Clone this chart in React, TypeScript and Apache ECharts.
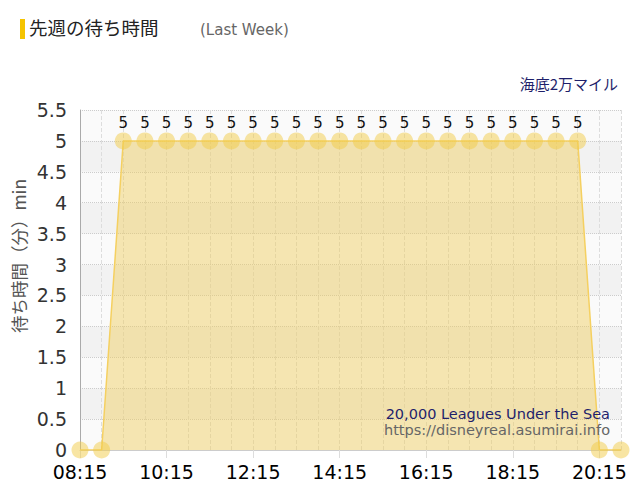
import { useRef, useEffect } from "react";
import * as echarts from "echarts";

// 時刻（30分刻み）
const times = [
  "08:15", "08:45", "09:15", "09:45", "10:15", "10:45", "11:15", "11:45",
  "12:15", "12:45", "13:15", "13:45", "14:15", "14:45", "15:15", "15:45",
  "16:15", "16:45", "17:15", "17:45", "18:15", "18:45", "19:15", "19:45",
  "20:15", "20:45",
];
// 待ち時間（分）
const waits = [
  0, 0, 5, 5, 5, 5, 5, 5, 5, 5, 5, 5, 5, 5, 5, 5, 5, 5, 5, 5, 5, 5, 5, 5, 0, 0,
];

const FONT = "'DejaVu Sans', Verdana, sans-serif";
const JP = "'Noto Sans CJK JP', sans-serif";

const App = () => {
  const chartRef = useRef<HTMLDivElement>(null);

  useEffect(() => {
    const myChart = echarts.init(chartRef.current, null, { renderer: "svg" });

    const option = {
      animation: false,
      grid: { left: 80, right: 19, top: 110, bottom: 50 },
      graphic: [
        { type: "rect", left: 20, top: 19, z: 100, shape: { width: 5, height: 20 }, style: { fill: "#f5c400" } },
        { type: "text", left: 29, top: 18, z: 100, style: { text: "先週の待ち時間", fontSize: 18.5, fontFamily: JP, fill: "#222" } },
        { type: "text", left: 200, top: 22, z: 100, style: { text: "(Last Week)", fontSize: 15, fontFamily: FONT, fill: "#666" } },
        { type: "text", right: 22, top: 76, z: 100, style: { text: "海底2万マイル", fontSize: 15, fontFamily: JP, fill: "#1f1f6b" } },
        {
          type: "text", x: 18, y: 256, rotation: Math.PI / 2, z: 100,
          style: { text: "待ち時間（分）min", fontSize: 17.5, fontFamily: JP, fill: "#555", align: "center", verticalAlign: "middle" },
        },
        { type: "text", right: 30, top: 406, z: 100, style: { text: "20,000 Leagues Under the Sea", fontSize: 14.5, fontFamily: FONT, fill: "#1f1f6b" } },
        { type: "text", right: 30, top: 422, z: 100, style: { text: "https://disneyreal.asumirai.info", fontSize: 14.5, fontFamily: FONT, fill: "#666" } },
      ],
      xAxis: {
        type: "category",
        data: times,
        boundaryGap: false,
        axisLine: { lineStyle: { color: "#ccc" } },
        axisTick: { show: true, interval: 3, length: 8, lineStyle: { color: "#ddd" } },
        axisLabel: { interval: 3, fontSize: 19, color: "#000", fontFamily: FONT, margin: 12 },
        splitLine: { show: true, interval: 0, lineStyle: { color: "#ddd", type: "dashed" } },
      },
      yAxis: {
        type: "value",
        min: 0,
        max: 5.5,
        interval: 0.5,
        axisLine: { show: true, lineStyle: { color: "#aaa" } },
        axisTick: { show: false },
        axisLabel: { fontSize: 19, color: "#333", fontFamily: FONT, margin: 13 },
        splitLine: { lineStyle: { color: "#ccc", type: "dotted" } },
        splitArea: { show: true, areaStyle: { color: ["#fafafa", "#f2f2f2"] } },
      },
      series: [
        {
          type: "line",
          data: waits,
          symbol: "circle",
          symbolSize: 17,
          showAllSymbol: true,
          itemStyle: { color: "rgba(242,204,72,0.5)" },
          lineStyle: { color: "#f5d060", width: 1.5 },
          areaStyle: { color: "rgba(240,205,90,0.65)" },
          label: {
            show: true,
            position: "top",
            distance: 2,
            fontSize: 15,
            color: "#111",
            fontFamily: FONT,
            formatter: (p: any) => (p.value > 0 ? String(p.value) : ""),
          },
        },
      ],
    };

    myChart.setOption(option);
    return () => {
      myChart.dispose();
    };
  }, []);

  return <div ref={chartRef} style={{ width: "640px", height: "500px", margin: "-8px" }}></div>;
};

export default App;
